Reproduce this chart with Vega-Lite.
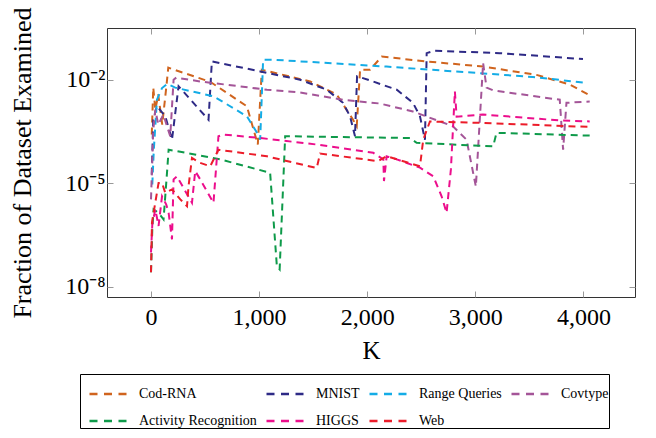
{
  "$schema": "https://vega.github.io/schema/vega-lite/v6.json",
  "width": 528,
  "height": 269,
  "autosize": {"type": "none"},
  "padding": {"left": 107, "top": 28, "right": 21, "bottom": 141},
  "background": "white",
  "config": {
    "view": {"stroke": "#333333", "strokeWidth": 1},
    "font": "Liberation Serif",
    "axis": {"grid": false, "domain": false, "tickColor": "#999999", "tickSize": -6, "tickWidth": 1, "labelColor": "black", "titleColor": "black", "labelFont": "Liberation Serif", "titleFont": "Liberation Serif", "titleFontWeight": "normal"},
    "legend": {"labelFont": "Liberation Serif"}
  },
  "datasets": {
    "d": [
      {"s": "Cod-RNA", "i": 1, "x": 7, "y": 2.57e-4},
      {"s": "Cod-RNA", "i": 2, "x": 21, "y": 5.89e-3},
      {"s": "Cod-RNA", "i": 3, "x": 40, "y": 1.35e-3},
      {"s": "Cod-RNA", "i": 4, "x": 67, "y": 3.72e-3},
      {"s": "Cod-RNA", "i": 5, "x": 104, "y": 5.01e-4},
      {"s": "Cod-RNA", "i": 6, "x": 141, "y": 5.89e-3},
      {"s": "Cod-RNA", "i": 7, "x": 160, "y": 2.24e-2},
      {"s": "Cod-RNA", "i": 8, "x": 215, "y": 1.95e-2},
      {"s": "Cod-RNA", "i": 9, "x": 548, "y": 8.71e-3},
      {"s": "Cod-RNA", "i": 10, "x": 887, "y": 1.70e-3},
      {"s": "Cod-RNA", "i": 11, "x": 988, "y": 1.32e-4},
      {"s": "Cod-RNA", "i": 12, "x": 1025, "y": 1.95e-2},
      {"s": "Cod-RNA", "i": 13, "x": 1472, "y": 8.91e-3},
      {"s": "Cod-RNA", "i": 14, "x": 1718, "y": 3.72e-3},
      {"s": "Cod-RNA", "i": 15, "x": 1869, "y": 6.92e-4},
      {"s": "Cod-RNA", "i": 16, "x": 1903, "y": 4.47e-4},
      {"s": "Cod-RNA", "i": 17, "x": 1934, "y": 1.95e-2},
      {"s": "Cod-RNA", "i": 18, "x": 2026, "y": 1.95e-2},
      {"s": "Cod-RNA", "i": 19, "x": 2134, "y": 4.68e-2},
      {"s": "Cod-RNA", "i": 20, "x": 2550, "y": 3.39e-2},
      {"s": "Cod-RNA", "i": 21, "x": 3072, "y": 2.40e-2},
      {"s": "Cod-RNA", "i": 22, "x": 3566, "y": 1.38e-2},
      {"s": "Cod-RNA", "i": 23, "x": 3873, "y": 7.24e-3},
      {"s": "Cod-RNA", "i": 24, "x": 4074, "y": 3.31e-3},

      {"s": "MNIST", "i": 1, "x": 7, "y": 1.78e-5},
      {"s": "MNIST", "i": 2, "x": 21, "y": 6.92e-4},
      {"s": "MNIST", "i": 3, "x": 55, "y": 1.70e-3},
      {"s": "MNIST", "i": 4, "x": 132, "y": 8.71e-4},
      {"s": "MNIST", "i": 5, "x": 194, "y": 1.82e-4},
      {"s": "MNIST", "i": 6, "x": 255, "y": 6.46e-3},
      {"s": "MNIST", "i": 7, "x": 532, "y": 6.92e-4},
      {"s": "MNIST", "i": 8, "x": 563, "y": 3.39e-2},
      {"s": "MNIST", "i": 9, "x": 1010, "y": 1.74e-2},
      {"s": "MNIST", "i": 10, "x": 1379, "y": 1.0e-2},
      {"s": "MNIST", "i": 11, "x": 1626, "y": 5.13e-3},
      {"s": "MNIST", "i": 12, "x": 1776, "y": 2.14e-3},
      {"s": "MNIST", "i": 13, "x": 1841, "y": 8.71e-4},
      {"s": "MNIST", "i": 14, "x": 1887, "y": 2.29e-4},
      {"s": "MNIST", "i": 15, "x": 1906, "y": 1.26e-2},
      {"s": "MNIST", "i": 16, "x": 2007, "y": 1.0e-2},
      {"s": "MNIST", "i": 17, "x": 2273, "y": 5.13e-3},
      {"s": "MNIST", "i": 18, "x": 2423, "y": 2.14e-3},
      {"s": "MNIST", "i": 19, "x": 2488, "y": 8.71e-4},
      {"s": "MNIST", "i": 20, "x": 2534, "y": 1.82e-4},
      {"s": "MNIST", "i": 21, "x": 2550, "y": 5.89e-2},
      {"s": "MNIST", "i": 22, "x": 2626, "y": 6.92e-2},
      {"s": "MNIST", "i": 23, "x": 3227, "y": 5.89e-2},
      {"s": "MNIST", "i": 24, "x": 3996, "y": 3.98e-2},

      {"s": "Range Queries", "i": 1, "x": 12, "y": 9.12e-6},
      {"s": "Range Queries", "i": 2, "x": 26, "y": 9.33e-5},
      {"s": "Range Queries", "i": 3, "x": 55, "y": 2.63e-3},
      {"s": "Range Queries", "i": 4, "x": 102, "y": 5.75e-3},
      {"s": "Range Queries", "i": 5, "x": 151, "y": 7.59e-3},
      {"s": "Range Queries", "i": 6, "x": 224, "y": 5.89e-3},
      {"s": "Range Queries", "i": 7, "x": 578, "y": 3.31e-3},
      {"s": "Range Queries", "i": 8, "x": 887, "y": 8.71e-4},
      {"s": "Range Queries", "i": 9, "x": 991, "y": 2.57e-4},
      {"s": "Range Queries", "i": 10, "x": 1010, "y": 1.82e-4},
      {"s": "Range Queries", "i": 11, "x": 1037, "y": 3.80e-2},
      {"s": "Range Queries", "i": 12, "x": 1130, "y": 3.80e-2},
      {"s": "Range Queries", "i": 13, "x": 2180, "y": 2.40e-2},
      {"s": "Range Queries", "i": 14, "x": 3042, "y": 1.55e-2},
      {"s": "Range Queries", "i": 15, "x": 3532, "y": 1.20e-2},
      {"s": "Range Queries", "i": 16, "x": 3996, "y": 8.32e-3},

      {"s": "Covtype", "i": 1, "x": 0, "y": 3.39e-6},
      {"s": "Covtype", "i": 2, "x": 21, "y": 3.55e-4},
      {"s": "Covtype", "i": 3, "x": 40, "y": 1.35e-3},
      {"s": "Covtype", "i": 4, "x": 67, "y": 5.01e-4},
      {"s": "Covtype", "i": 5, "x": 114, "y": 9.77e-4},
      {"s": "Covtype", "i": 6, "x": 178, "y": 2.29e-4},
      {"s": "Covtype", "i": 7, "x": 209, "y": 1.0e-2},
      {"s": "Covtype", "i": 8, "x": 234, "y": 1.15e-2},
      {"s": "Covtype", "i": 9, "x": 455, "y": 8.91e-3},
      {"s": "Covtype", "i": 10, "x": 1072, "y": 5.13e-3},
      {"s": "Covtype", "i": 11, "x": 1379, "y": 4.27e-3},
      {"s": "Covtype", "i": 12, "x": 1776, "y": 2.63e-3},
      {"s": "Covtype", "i": 13, "x": 2118, "y": 2.04e-3},
      {"s": "Covtype", "i": 14, "x": 2423, "y": 1.20e-3},
      {"s": "Covtype", "i": 15, "x": 2793, "y": 4.47e-4},
      {"s": "Covtype", "i": 16, "x": 2919, "y": 1.82e-4},
      {"s": "Covtype", "i": 17, "x": 3005, "y": 7.94e-6},
      {"s": "Covtype", "i": 18, "x": 3072, "y": 3.02e-2},
      {"s": "Covtype", "i": 19, "x": 3104, "y": 5.89e-3},
      {"s": "Covtype", "i": 20, "x": 3165, "y": 4.90e-3},
      {"s": "Covtype", "i": 21, "x": 3781, "y": 2.63e-3},
      {"s": "Covtype", "i": 22, "x": 3812, "y": 9.33e-5},
      {"s": "Covtype", "i": 23, "x": 3843, "y": 2.14e-3},
      {"s": "Covtype", "i": 24, "x": 4058, "y": 2.34e-3},

      {"s": "Activity Recognition", "i": 1, "x": 0, "y": 2.63e-8},
      {"s": "Activity Recognition", "i": 2, "x": 12, "y": 4.57e-7},
      {"s": "Activity Recognition", "i": 3, "x": 24, "y": 1.74e-6},
      {"s": "Activity Recognition", "i": 4, "x": 70, "y": 1.38e-6},
      {"s": "Activity Recognition", "i": 5, "x": 116, "y": 8.91e-7},
      {"s": "Activity Recognition", "i": 6, "x": 148, "y": 2.0e-5},
      {"s": "Activity Recognition", "i": 7, "x": 163, "y": 9.33e-5},
      {"s": "Activity Recognition", "i": 8, "x": 240, "y": 8.51e-5},
      {"s": "Activity Recognition", "i": 9, "x": 640, "y": 4.90e-5},
      {"s": "Activity Recognition", "i": 10, "x": 1102, "y": 2.0e-5},
      {"s": "Activity Recognition", "i": 11, "x": 1164, "y": 3.98e-8},
      {"s": "Activity Recognition", "i": 12, "x": 1190, "y": 3.16e-8},
      {"s": "Activity Recognition", "i": 13, "x": 1241, "y": 2.29e-4},
      {"s": "Activity Recognition", "i": 14, "x": 1287, "y": 2.29e-4},
      {"s": "Activity Recognition", "i": 15, "x": 2395, "y": 2.04e-4},
      {"s": "Activity Recognition", "i": 16, "x": 2457, "y": 1.48e-4},
      {"s": "Activity Recognition", "i": 17, "x": 3165, "y": 1.17e-4},
      {"s": "Activity Recognition", "i": 18, "x": 3196, "y": 2.88e-4},
      {"s": "Activity Recognition", "i": 19, "x": 4058, "y": 2.40e-4},

      {"s": "HIGGS", "i": 1, "x": 0, "y": 9.77e-8},
      {"s": "HIGGS", "i": 2, "x": 12, "y": 6.31e-7},
      {"s": "HIGGS", "i": 3, "x": 40, "y": 1.74e-6},
      {"s": "HIGGS", "i": 4, "x": 70, "y": 5.75e-7},
      {"s": "HIGGS", "i": 5, "x": 102, "y": 4.17e-6},
      {"s": "HIGGS", "i": 6, "x": 141, "y": 2.40e-6},
      {"s": "HIGGS", "i": 7, "x": 163, "y": 1.38e-6},
      {"s": "HIGGS", "i": 8, "x": 194, "y": 2.34e-7},
      {"s": "HIGGS", "i": 9, "x": 209, "y": 1.29e-5},
      {"s": "HIGGS", "i": 10, "x": 240, "y": 1.58e-5},
      {"s": "HIGGS", "i": 11, "x": 379, "y": 2.69e-6},
      {"s": "HIGGS", "i": 12, "x": 409, "y": 2.24e-5},
      {"s": "HIGGS", "i": 13, "x": 455, "y": 1.29e-5},
      {"s": "HIGGS", "i": 14, "x": 578, "y": 2.69e-6},
      {"s": "HIGGS", "i": 15, "x": 624, "y": 2.29e-4},
      {"s": "HIGGS", "i": 16, "x": 671, "y": 2.57e-4},
      {"s": "HIGGS", "i": 17, "x": 1010, "y": 2.04e-4},
      {"s": "HIGGS", "i": 18, "x": 1533, "y": 1.32e-4},
      {"s": "HIGGS", "i": 19, "x": 2056, "y": 7.59e-5},
      {"s": "HIGGS", "i": 20, "x": 2149, "y": 4.90e-5},
      {"s": "HIGGS", "i": 21, "x": 2155, "y": 1.15e-5},
      {"s": "HIGGS", "i": 22, "x": 2180, "y": 6.03e-5},
      {"s": "HIGGS", "i": 23, "x": 2273, "y": 4.90e-5},
      {"s": "HIGGS", "i": 24, "x": 2488, "y": 2.82e-5},
      {"s": "HIGGS", "i": 25, "x": 2611, "y": 1.58e-5},
      {"s": "HIGGS", "i": 26, "x": 2688, "y": 4.17e-6},
      {"s": "HIGGS", "i": 27, "x": 2734, "y": 1.38e-6},
      {"s": "HIGGS", "i": 28, "x": 2774, "y": 2.51e-5},
      {"s": "HIGGS", "i": 29, "x": 2811, "y": 4.57e-3},
      {"s": "HIGGS", "i": 30, "x": 2827, "y": 8.51e-4},
      {"s": "HIGGS", "i": 31, "x": 3070, "y": 9.77e-4},
      {"s": "HIGGS", "i": 32, "x": 3781, "y": 6.61e-4},
      {"s": "HIGGS", "i": 33, "x": 4058, "y": 6.17e-4},

      {"s": "Web", "i": 1, "x": 0, "y": 2.63e-8},
      {"s": "Web", "i": 2, "x": 9, "y": 7.24e-7},
      {"s": "Web", "i": 3, "x": 70, "y": 1.02e-5},
      {"s": "Web", "i": 4, "x": 102, "y": 1.02e-5},
      {"s": "Web", "i": 5, "x": 132, "y": 5.25e-6},
      {"s": "Web", "i": 6, "x": 194, "y": 6.61e-6},
      {"s": "Web", "i": 7, "x": 271, "y": 3.39e-6},
      {"s": "Web", "i": 8, "x": 333, "y": 2.14e-6},
      {"s": "Web", "i": 9, "x": 347, "y": 8.13e-6},
      {"s": "Web", "i": 10, "x": 379, "y": 5.37e-5},
      {"s": "Web", "i": 11, "x": 455, "y": 3.89e-5},
      {"s": "Web", "i": 12, "x": 548, "y": 3.09e-5},
      {"s": "Web", "i": 13, "x": 624, "y": 9.33e-5},
      {"s": "Web", "i": 14, "x": 1072, "y": 6.03e-5},
      {"s": "Web", "i": 15, "x": 1533, "y": 2.75e-5},
      {"s": "Web", "i": 16, "x": 1564, "y": 7.24e-5},
      {"s": "Web", "i": 17, "x": 2100, "y": 4.37e-5},
      {"s": "Web", "i": 18, "x": 2180, "y": 6.03e-5},
      {"s": "Web", "i": 19, "x": 2488, "y": 3.09e-5},
      {"s": "Web", "i": 20, "x": 2518, "y": 1.82e-4},
      {"s": "Web", "i": 21, "x": 2580, "y": 6.17e-4},
      {"s": "Web", "i": 22, "x": 3042, "y": 5.62e-4},
      {"s": "Web", "i": 23, "x": 4058, "y": 4.27e-4}
    ]
  },
  "data": {"name": "d"},
  "layer": [
    {
      "mark": {"type": "line", "strokeDash": [7, 5], "strokeWidth": 2, "clip": true},
      "encoding": {
        "x": {"field": "x", "type": "quantitative", "scale": {"domain": [-407, 4477], "nice": false, "zero": false},
          "axis": {"orient": "bottom", "values": [0, 1000, 2000, 3000, 4000], "format": ",d", "labelFontSize": 24, "labelPadding": 14, "title": "K", "titleFontSize": 25, "titlePadding": 9}},
        "y": {"field": "y", "type": "quantitative", "scale": {"type": "log", "domain": [5.01e-9, 0.316], "nice": false},
          "axis": {"orient": "left", "values": [1e-8, 1e-5, 1e-2], "labelExpr": "datum.value < 1e-6 ? '10⁻⁸' : datum.value < 1e-3 ? '10⁻⁵' : '10⁻²'", "labelFontSize": 24, "labelPadding": 8, "title": "Fraction of Dataset Examined", "titleFontSize": 26, "titleBaseline": "alphabetic", "titleX": -77}},
        "color": {"field": "s", "type": "nominal",
          "scale": {"domain": ["Cod-RNA", "MNIST", "Range Queries", "Covtype", "Activity Recognition", "HIGGS", "Web"],
                    "range": ["#D0641E", "#2E2A86", "#14ACE6", "#A45598", "#0E9A4A", "#EC0E8C", "#EC1C2A"]},
          "legend": {"title": null, "orient": "none", "legendX": -27, "legendY": 346, "direction": "horizontal", "columns": 4,
                     "symbolType": "stroke", "symbolSize": 1369, "symbolStrokeWidth": 2.5, "symbolDash": [8, 6.5], "symbolOffset": 8,
                     "labelFontSize": 14, "labelColor": "black", "labelOffset": 11, "columnPadding": -6, "rowPadding": -13,
                     "padding": 0, "strokeColor": "black", "fillColor": "white", "labelLimit": 300}},
        "order": {"field": "i", "type": "quantitative"}
      }
    },
    {
      "mark": {"type": "point", "opacity": 0},
      "encoding": {
        "x": {"field": "x", "type": "quantitative", "axis": {"orient": "top", "values": [0, 1000, 2000, 3000, 4000], "labels": false, "title": null}},
        "y": {"field": "y", "type": "quantitative", "axis": {"orient": "right", "values": [1e-8, 1e-5, 1e-2], "labels": false, "title": null}}
      }
    }
  ],
  "resolve": {"axis": {"x": "independent", "y": "independent"}}
}
